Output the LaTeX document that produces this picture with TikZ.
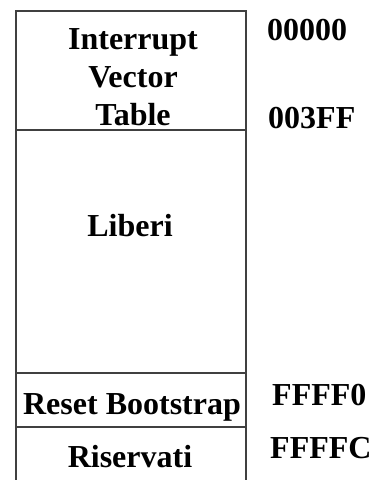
\documentclass[tikz,border=0pt]{standalone}
\usepackage{fontspec}
\setmainfont{Liberation Serif}
\usepackage{tikz}

\tikzset{
  lbl/.style={font=\bfseries\fontsize{32}{38}\selectfont, inner sep=0pt, anchor=base},
  addr/.style={lbl, anchor=base west}
}

\begin{document}
\begin{tikzpicture}[x=1pt,y=-1pt]
\useasboundingbox (0,0) rectangle (377,480);

% memory map column (open at the bottom)
\draw[line width=1.2pt, black!75] (16,480) -- (16,11) -- (246,11) -- (246,480);
\draw[line width=1.2pt, black!75] (16,130) -- (246,130);
\draw[line width=1.2pt, black!75] (16,373) -- (246,373);
\draw[line width=1.2pt, black!75] (16,427) -- (246,427);

% region names
\node[lbl, anchor=north, align=center] (ivt) at (133,28) {Interrupt\\Vector\\Table};
\node[lbl] (lib) at (130,236) {Liberi};
\node[lbl] (rst) at (132,414) {Reset Bootstrap};
\node[lbl] (ris) at (130,467) {Riservati};

% addresses
\node[addr] (a0) at (267,40) {00000};
\node[addr] (a1) at (268,128) {003FF};
\node[addr] (a2) at (272,405) {FFFF0};
\node[addr] (a3) at (270,458) {FFFFC};

\end{tikzpicture}
\end{document}
